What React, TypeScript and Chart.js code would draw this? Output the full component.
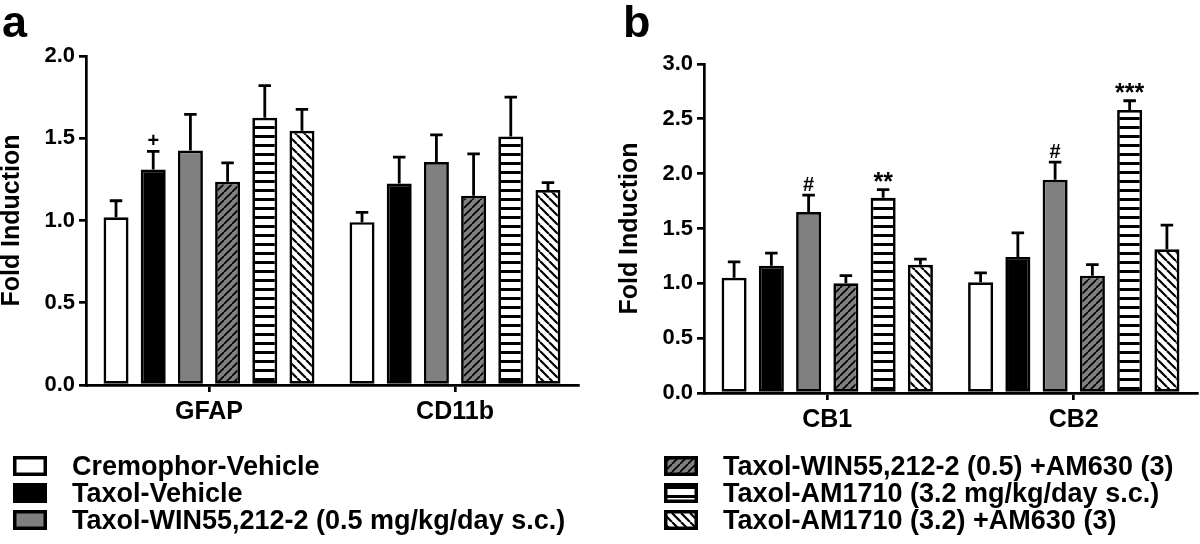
import React, { useEffect, useRef } from 'react';
import { Chart, registerables } from 'chart.js';

Chart.register(...registerables);
Chart.defaults.font.family = '"Liberation Sans", Arial, sans-serif';

// ---------- data ----------
const seriesLabels = [
  'Cremophor-Vehicle',
  'Taxol-Vehicle',
  'Taxol-WIN55,212-2 (0.5 mg/kg/day s.c.)',
  'Taxol-WIN55,212-2 (0.5) +AM630 (3)',
  'Taxol-AM1710 (3.2 mg/kg/day s.c.)',
  'Taxol-AM1710 (3.2) +AM630 (3)',
];

const categoriesA = ['GFAP', 'CD11b'];
const categoriesB = ['CB1', 'CB2'];

const yTickLabelsA = ['0.0', '0.5', '1.0', '1.5', '2.0'];
const yTickLabelsB = ['0.0', '0.5', '1.0', '1.5', '2.0', '2.5', '3.0'];
const yMaxA = 2;
const yMaxB = 3;
const yStep = 0.5;
const yTitle = 'Fold Induction';

// panel a means (GFAP, CD11b)
const cremophorA = [1.02, 0.99];
const taxolVehA = [1.31, 1.225];
const winA = [1.425, 1.355];
const winAm630A = [1.235, 1.15];
const am1710A = [1.625, 1.51];
const am1710Am630A = [1.545, 1.185];
// panel a SEM
const cremophorSemA = [0.1, 0.06];
const taxolVehSemA = [0.11, 0.16];
const winSemA = [0.22, 0.165];
const winAm630SemA = [0.115, 0.255];
const am1710SemA = [0.195, 0.24];
const am1710Am630SemA = [0.13, 0.045];

// panel b means (CB1, CB2)
const cremophorB = [1.05, 1.01];
const taxolVehB = [1.16, 1.24];
const winB = [1.65, 1.945];
const winAm630B = [1.0, 1.07];
const am1710B = [1.78, 2.58];
const am1710Am630B = [1.17, 1.31];
// panel b SEM
const cremophorSemB = [0.145, 0.085];
const taxolVehSemB = [0.115, 0.22];
const winSemB = [0.155, 0.16];
const winAm630SemB = [0.07, 0.1];
const am1710SemB = [0.075, 0.085];
const am1710Am630SemB = [0.05, 0.22];

// significance marks: category index, series index, text
const marksA = [{ cat: 0, series: 1, text: '+' }];
const marksB = [
  { cat: 0, series: 2, text: '#' },
  { cat: 0, series: 4, text: '**' },
  { cat: 1, series: 2, text: '#' },
  { cat: 1, series: 4, text: '***' },
];

// ---------- helpers ----------
function makePattern(bg: string, kind: 'fwd' | 'back' | 'horiz', size: number, lw: number) {
  const c = document.createElement('canvas');
  c.width = size;
  c.height = size;
  const g = c.getContext('2d')!;
  g.fillStyle = bg;
  g.fillRect(0, 0, size, size);
  g.fillStyle = '#000';
  g.strokeStyle = '#000';
  g.lineWidth = lw;
  if (kind === 'horiz') {
    g.fillRect(0, 0, size, lw);
  } else {
    g.beginPath();
    for (let k = -1; k <= 1; k++) {
      if (kind === 'fwd') {
        g.moveTo(k * size, size);
        g.lineTo(k * size + size, 0);
      } else {
        g.moveTo(k * size, 0);
        g.lineTo(k * size + size, size);
      }
    }
    g.stroke();
  }
  return g.createPattern(c, 'repeat') as CanvasPattern;
}

function buildDatasets(means: number[][]) {
  const fills: any[] = [
    '#ffffff',
    '#000000',
    '#808080',
    makePattern('#808080', 'fwd', 8, 1.7),
    makePattern('#ffffff', 'horiz', 9, 3),
    makePattern('#ffffff', 'back', 9, 2.2),
  ];
  return means.map((m, i) => ({
    label: seriesLabels[i],
    data: m,
    backgroundColor: fills[i],
    borderColor: '#000',
    borderWidth: 2.7,
    borderSkipped: false as const,
    barPercentage: 0.672,
    categoryPercentage: 0.907,
  }));
}

function makeOverlay(
  sems: number[][],
  marks: { cat: number; series: number; text: string }[],
  legendIdx: number[],
  boxX: number,
  textX: number,
  letter: string,
  letterX: number,
) {
  return {
    id: 'overlay',
    afterDatasetsDraw(chart: any) {
      const ctx = chart.ctx as CanvasRenderingContext2D;
      const y = chart.scales.y;
      ctx.save();
      ctx.strokeStyle = '#000';
      ctx.lineWidth = 2.8;
      ctx.lineCap = 'butt';
      chart.data.datasets.forEach((ds: any, i: number) => {
        const meta = chart.getDatasetMeta(i);
        meta.data.forEach((el: any, j: number) => {
          const v = ds.data[j];
          const top = y.getPixelForValue(v);
          const et = y.getPixelForValue(v + sems[i][j]);
          const half = el.width * 0.25;
          ctx.beginPath();
          ctx.moveTo(el.x, top);
          ctx.lineTo(el.x, et);
          ctx.moveTo(el.x - half, et);
          ctx.lineTo(el.x + half, et);
          ctx.stroke();
        });
      });
      ctx.fillStyle = '#000';
      ctx.textAlign = 'center';
      ctx.textBaseline = 'alphabetic';
      marks.forEach((m) => {
        const el = chart.getDatasetMeta(m.series).data[m.cat];
        const v = chart.data.datasets[m.series].data[m.cat];
        const et = y.getPixelForValue(v + sems[m.series][m.cat]);
        const star = m.text.indexOf('*') >= 0;
        ctx.font = star ? 'bold 25px "Liberation Sans", Arial' : 'bold 20px "Liberation Sans", Arial';
        ctx.fillText(m.text, el.x, et - (star ? 0 : 4));
      });
      ctx.restore();
    },
    afterDraw(chart: any) {
      const ctx = chart.ctx as CanvasRenderingContext2D;
      ctx.save();
      ctx.fillStyle = '#000';
      ctx.textAlign = 'left';
      ctx.textBaseline = 'alphabetic';
      ctx.font = 'bold 45px "Liberation Sans", Arial';
      ctx.fillText(letter, letterX, 37);
      legendIdx.forEach((di, r) => {
        const ds = chart.data.datasets[di];
        const base = 475 + r * 27;
        const by = base - 19;
        ctx.fillStyle = ds.backgroundColor;
        ctx.fillRect(boxX, by, 34, 20);
        ctx.lineWidth = 3.5;
        ctx.strokeStyle = '#000';
        ctx.strokeRect(boxX + 1.75, by + 1.75, 34 - 3.5, 20 - 3.5);
        ctx.fillStyle = '#000';
        ctx.font = 'bold 27px "Liberation Sans", Arial';
        ctx.fillText(ds.label, textX, base);
      });
      ctx.restore();
    },
  };
}

function makeConfig(
  categories: string[],
  means: number[][],
  yMax: number,
  yLabels: string[],
  pad: { top: number; right: number; bottom: number; left: number },
  yWidth: number,
  xHeight: number,
  overlay: any,
): any {
  return {
    type: 'bar',
    data: { labels: categories, datasets: buildDatasets(means) },
    plugins: [overlay],
    options: {
      responsive: false,
      animation: false,
      devicePixelRatio: 1,
      layout: { padding: pad },
      plugins: { legend: { display: false }, tooltip: { enabled: false } },
      scales: {
        x: {
          type: 'category',
          offset: true,
          ticks: { color: '#000', font: { size: 25, weight: 'bold' }, padding: 5 },
          grid: { offset: false, drawOnChartArea: false, drawTicks: true, tickLength: 7, color: '#000', lineWidth: 2.7 },
          border: { display: true, color: '#000', width: 2.7 },
          afterFit: (s: any) => {
            s.height = xHeight;
          },
        },
        y: {
          min: 0,
          max: yMax,
          ticks: {
            stepSize: yStep,
            color: '#000',
            font: { size: 22, weight: 'bold' },
            padding: 4,
            callback: (_v: any, i: number) => yLabels[i],
          },
          grid: { drawOnChartArea: false, drawTicks: true, tickLength: 7, color: '#000', lineWidth: 2.7 },
          border: { display: true, color: '#000', width: 2.7 },
          title: {
            display: true,
            text: yTitle,
            color: '#000',
            font: { size: 25, weight: 'bold', lineHeight: 1 },
            padding: 0,
          },
          afterFit: (s: any) => {
            s.width = yWidth;
          },
        },
      },
    },
  };
}

export default function App() {
  const refA = useRef<HTMLCanvasElement>(null);
  const refB = useRef<HTMLCanvasElement>(null);

  useEffect(() => {
    const meansA = [cremophorA, taxolVehA, winA, winAm630A, am1710A, am1710Am630A];
    const semsA = [cremophorSemA, taxolVehSemA, winSemA, winAm630SemA, am1710SemA, am1710Am630SemA];
    const meansB = [cremophorB, taxolVehB, winB, winAm630B, am1710B, am1710Am630B];
    const semsB = [cremophorSemB, taxolVehSemB, winSemB, winAm630SemB, am1710SemB, am1710Am630SemB];

    const chartA = new Chart(
      refA.current!,
      makeConfig(
        categoriesA,
        meansA,
        yMaxA,
        yTickLabelsA,
        { top: 56, right: 22, bottom: 104, left: 0 },
        86,
        55,
        makeOverlay(semsA, marksA, [0, 1, 2], 13, 72, 'a', 2),
      ),
    );
    const chartB = new Chart(
      refB.current!,
      makeConfig(
        categoriesB,
        meansB,
        yMaxB,
        yTickLabelsB,
        { top: 64, right: 3, bottom: 104, left: 18 },
        86,
        47,
        makeOverlay(semsB, marksB, [3, 4, 5], 64, 123, 'b', 23),
      ),
    );
    return () => {
      chartA.destroy();
      chartB.destroy();
    };
  }, []);

  return (
    <div style={{ position: 'absolute', left: 0, top: 0, width: 1200, height: 544, background: '#fff', overflow: 'hidden' }}>
      <canvas ref={refA} width={600} height={544} style={{ position: 'absolute', left: 0, top: 0 }} />
      <canvas ref={refB} width={600} height={544} style={{ position: 'absolute', left: 600, top: 0 }} />
    </div>
  );
}
